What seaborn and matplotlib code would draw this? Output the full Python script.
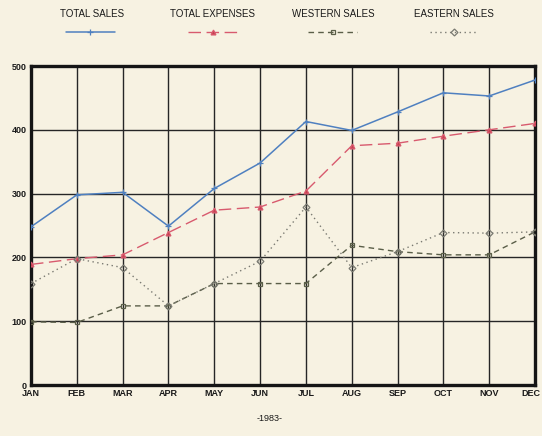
import matplotlib
matplotlib.use("Agg")
import matplotlib.pyplot as plt
from matplotlib.lines import Line2D
import matplotlib.transforms as mtransforms
import seaborn as sns
import pandas as pd

months = ["JAN", "FEB", "MAR", "APR", "MAY", "JUN", "JUL", "AUG", "SEP", "OCT", "NOV", "DEC"]
total_sales = [248, 298, 302, 249, 308, 348, 413, 399, 428, 458, 453, 478]
total_expenses = [189, 198, 204, 239, 274, 279, 304, 375, 379, 390, 400, 410]
western_sales = [99, 98, 124, 124, 159, 159, 159, 219, 209, 204, 204, 240]
eastern_sales = [159, 198, 184, 124, 159, 194, 279, 184, 209, 239, 238, 240]
series_names = ["TOTAL SALES", "TOTAL EXPENSES", "WESTERN SALES", "EASTERN SALES"]
y_ticks = [0, 100, 200, 300, 400, 500]
year_label = "-1983-"

sns.set_theme(style="white")
plt.rcParams["font.family"] = ["Liberation Sans Narrow", "Liberation Sans", "DejaVu Sans"]

bg = "#f7f2e2"
fig = plt.figure(figsize=(5.42, 4.36), dpi=100, facecolor=bg)
ax = fig.add_axes([31 / 542, 51 / 436, 504 / 542, 319 / 436])
ax.set_facecolor(bg)

idx = list(range(len(months)))
styles = [
    dict(color="#4f80c0", marker="+", ms=5, mfc="#4f80c0", lw=1.1, dashes=None),
    dict(color="#d85a6e", marker="^", ms=3.5, mfc="#c8404f", lw=1.0, dashes=(9, 4)),
    dict(color="#5a5e48", marker="s", ms=3.5, mfc="none", lw=1.0, dashes=(4, 3)),
    dict(color="#7a7a72", marker="D", ms=3.5, mfc="none", lw=1.0, dashes=(1, 2.5)),
]
data = [total_sales, total_expenses, western_sales, eastern_sales]

ax.set_xlim(0, len(months) - 1)
ax.set_ylim(0, 500)
ax.set_xticks(idx)
ax.set_xticklabels(months)
ax.set_yticks(y_ticks)
ax.grid(True, color="#262626", lw=1.0)
ax.set_axisbelow(True)

for name, vals, st in zip(series_names, data, styles):
    df = pd.DataFrame({"month": idx, "value": vals})
    sns.lineplot(data=df, x="month", y="value", ax=ax, color=st["color"], lw=st["lw"],
                 marker=st["marker"], markersize=st["ms"], markerfacecolor=st["mfc"],
                 markeredgecolor=st["color"], markeredgewidth=0.9, zorder=3)
    l = ax.lines[-1]
    if st["dashes"] is not None:
        l.set_dashes(st["dashes"])

ax.set_xlabel("")
ax.set_ylabel("")
for s in ax.spines.values():
    s.set_visible(True)
    s.set_linewidth(2.4)
    s.set_color("#151515")
ax.tick_params(axis="both", length=0, labelsize=6.5, colors="#1a1a1a", pad=3)
for t in ax.get_xticklabels() + ax.get_yticklabels():
    t.set_fontweight("bold")
last = ax.get_xticklabels()[-1]
last.set_horizontalalignment("right")
last.set_transform(last.get_transform() + mtransforms.ScaledTranslation(5 / 100, 0, fig.dpi_scale_trans))

label_x = [92, 213, 333, 454]
seg = [(66, 115), (188, 237), (308, 357), (430, 478)]
for name, st, lx, (x0, x1) in zip(series_names, styles, label_x, seg):
    fig.text(lx / 542, 1 - 14 / 436, name, ha="center", va="center", fontsize=7, color="#1a1a1a")
    yy = 1 - 32 / 436
    ln = Line2D([x0 / 542, x1 / 542], [yy, yy], transform=fig.transFigure, color=st["color"], lw=st["lw"])
    if st["dashes"] is not None:
        ln.set_dashes(st["dashes"])
    fig.add_artist(ln)
    mk = Line2D([(x0 + x1) / 2 / 542], [yy], transform=fig.transFigure, color=st["color"], marker=st["marker"],
                ms=st["ms"], mfc=st["mfc"], mec=st["color"], mew=0.9, ls="none")
    fig.add_artist(mk)

fig.text(270 / 542, 1 - 418 / 436, year_label, ha="center", va="center", fontsize=6.5, color="#1a1a1a")

fig.savefig("out.png", dpi=100, facecolor=bg)
